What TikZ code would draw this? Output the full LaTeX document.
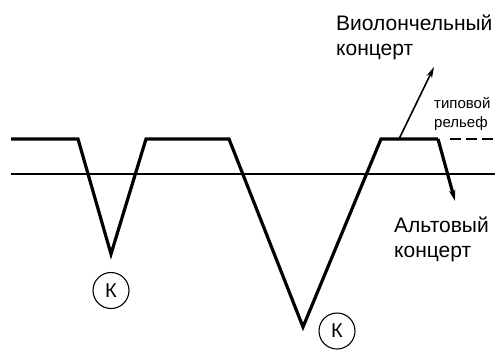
\documentclass[tikz,border=0pt]{standalone}
\usepackage{fontspec}
\setmainfont{Liberation Sans}
\usetikzlibrary{arrows.meta}
\tikzset{
  relief/.style={line width=3.2pt, line join=miter, black},
  base/.style={line width=1.2pt, black},
  bigtext/.style={font=\fontsize{21}{25}\selectfont, inner sep=0pt, align=left},
  smalltext/.style={font=\fontsize{15}{19}\selectfont, inner sep=0pt, align=left},
  kcircle/.style={circle, draw, line width=1.1pt, minimum size=36pt, inner sep=0pt, font=\fontsize{20}{20}\selectfont},
  tip/.style={-{Stealth[length=11pt,width=6pt]}}
}
\begin{document}
\begin{tikzpicture}[x=1pt,y=-1pt]
\useasboundingbox (0,0) rectangle (495,349);
% reference line
\coordinate (l0) at (11,174);
\coordinate (l1) at (497,174);
\draw[base] (l0) -- (l1);
% relief points
\coordinate (p0) at (11,139);
\coordinate (p1) at (78,139);
\coordinate (p2) at (111,254);
\coordinate (p3) at (146,139);
\coordinate (p4) at (229,139);
\coordinate (p5) at (303,327);
\coordinate (p6) at (381,139);
\coordinate (p7) at (438,139);
\coordinate (p8) at (455,201);
\draw[relief] (p0) -- (p1) -- (p2) -- (p3) -- (p4) -- (p5) -- (p6) -- (p7);
\draw[line width=3.2pt, tip] (p7) -- (p8);
% up arrow
\coordinate (u0) at (399,139);
\coordinate (u1) at (434,67);
\draw[line width=1.6pt, tip] (u0) -- (u1);
% dashed typical relief
\coordinate (d0) at (450,139);
\coordinate (d1) at (494,139);
\draw[line width=1.5pt, dash pattern=on 11pt off 5pt] (d0) -- (d1);
% texts (base anchor = baseline of last line)
\node[bigtext, anchor=base west] (cello) at (336,55) {Виолончельный\\концерт};
\node[bigtext, anchor=base west] (viola) at (394,257) {Альтовый\\концерт};
\node[smalltext, anchor=base west] (typ) at (434,127) {типовой\\рельеф};
% circles
\node[kcircle] (k1) at (111,290.5) {К};
\node[kcircle] (k2) at (337,331) {К};
\end{tikzpicture}
\end{document}
